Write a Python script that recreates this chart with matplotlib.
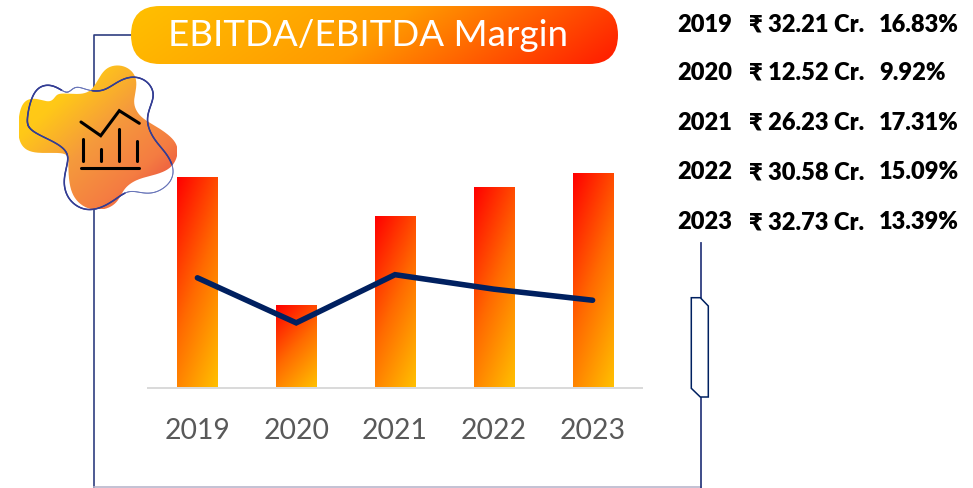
#!/usr/bin/env python3
import numpy as np
import matplotlib
matplotlib.use('Agg')
import matplotlib.pyplot as plt
from matplotlib.collections import LineCollection
from matplotlib.colors import LinearSegmentedColormap
from matplotlib.patches import FancyBboxPatch, PathPatch, Polygon
from matplotlib.path import Path

plt.rcParams['font.family'] = ['Lato', 'DejaVu Sans']

years = ['2019', '2020', '2021', '2022', '2023']
ebitda = [32.21, 12.52, 26.23, 30.58, 32.73]
margin = [16.83, 9.92, 17.31, 15.09, 13.39]
title = 'EBITDA/EBITDA Margin'

W, H = 973, 488
NAVY = '#002060'
FRAME = '#2F3E80'

red_amber = LinearSegmentedColormap.from_list('ra', ['#FF0000', '#FF6A00', '#FFC000'])
amber_red = LinearSegmentedColormap.from_list('ar', ['#FFC000', '#FF9A00', '#FF1A00'])
blob_map = LinearSegmentedColormap.from_list('bl', ['#FFD010', '#FFC818', '#F59A3C', '#F47C42', '#E63A40'])


def smooth_curve(pts, sigma=0.55):
    """Closed smooth outline from the rough points, scaled from zoom to page pixels."""
    pts = np.array(pts, dtype=float)
    closed = np.vstack([pts, pts[:1]])
    per_seg = 20
    t = np.arange(0, len(pts) + 1e-9, 1 / per_seg)[:-1]
    dense = np.column_stack([np.interp(t, np.arange(len(closed)), closed[:, i]) for i in range(2)])
    half = int(4 * sigma * per_seg)
    kernel = np.exp(-0.5 * (np.arange(-half, half + 1) / (sigma * per_seg)) ** 2)
    kernel /= kernel.sum()
    wrapped = np.vstack([dense[-half:], dense, dense[:half]])
    out = np.column_stack([np.convolve(wrapped[:, i], kernel, mode='valid') for i in range(2)])
    return np.vstack([out, out[:1]]) / 3


def fill_gradient(ax, patch, cmap, box, tilt=(1, 1)):
    """Paint a diagonal gradient over box=(x0, x1, y0, y1) clipped to patch."""
    u, v = np.meshgrid(np.linspace(0, 1, 200), np.linspace(0, 1, 200))
    g = (tilt[0] * u + tilt[1] * v) / (tilt[0] + tilt[1])
    im = ax.imshow(g, cmap=cmap, extent=box, origin='lower', aspect='auto',
                   vmin=0, vmax=1, zorder=patch.get_zorder())
    im.set_clip_path(patch)
    patch.set_visible(False)


fig = plt.figure(figsize=(W / 100, H / 100), dpi=100)

# page layer in pixel coordinates: frame, title pill, blob icon, side table
page = fig.add_axes([0, 0, 1, 1])
page.set_xlim(0, W)
page.set_ylim(H, 0)
page.axis('off')

page.plot([131, 94, 94], [35, 35, 488], color=FRAME, lw=1.2, zorder=1)
page.plot([94, 701], [487.3, 487.3], color='#B9B6CC', lw=1.2, zorder=1)
page.plot([701, 701], [243, 298], color=FRAME, lw=1.3, zorder=1)
page.plot([701, 701], [397, 488], color=FRAME, lw=1.3, zorder=1)
page.add_patch(Polygon([(691.3, 297.7), (700.3, 297.7), (708.3, 306), (708.3, 397),
                        (700.3, 397), (691.3, 388.3)], closed=True,
                       facecolor='white', edgecolor=NAVY, lw=1.1, zorder=2))

pill = FancyBboxPatch((131 + 29, 6 + 29), 487 - 58, 0.01, boxstyle='round,pad=29,rounding_size=29',
                      transform=page.transData, zorder=3)
page.add_patch(pill)
fill_gradient(page, pill, amber_red, (131, 618, 6, 64), tilt=(6, 1))
page.text(368, 35.5, title, color='white', fontsize=26.5, ha='center', va='center', zorder=4)

blob_pts = [(52, 375), (62, 300), (105, 290), (150, 312), (165, 292), (172, 278), (215, 282),
            (272, 285), (295, 235), (320, 195), (375, 192), (412, 225), (410, 270), (395, 312),
            (420, 355), (470, 378), (530, 420), (538, 458), (520, 505), (470, 525), (410, 535),
            (368, 565), (358, 605), (320, 632), (258, 632), (212, 590), (205, 525), (205, 490),
            (208, 458), (160, 458), (85, 462), (55, 430)]
blob = PathPatch(Path(smooth_curve(blob_pts, sigma=0.5)), transform=page.transData, zorder=3)
page.add_patch(blob)
fill_gradient(page, blob, blob_map, (19, 177, 65, 209), tilt=(1, 1))

ring_pts = [(80, 362), (88, 310), (108, 260), (150, 250), (185, 270), (205, 285), (225, 252),
            (260, 272), (310, 278), (350, 245), (395, 225), (442, 238), (468, 280), (450, 320),
            (435, 365), (460, 420), (502, 460), (527, 510), (512, 552), (470, 580), (430, 582),
            (385, 566), (350, 597), (300, 628), (250, 634), (203, 602), (187, 550), (200, 500),
            (210, 460), (175, 430), (108, 402), (83, 382)]
ring_curve = smooth_curve(ring_pts, sigma=0.5)
ring_segs = np.stack([ring_curve[:-1], ring_curve[1:]], axis=1)
mid = ring_segs.mean(axis=1)
thin = ((mid[:, 0] > 62) & (mid[:, 0] < 92) & (mid[:, 1] < 95)) | ((mid[:, 0] > 125) & (mid[:, 1] > 165))
ring_cols = np.where(thin[:, None], [[0.40, 0.45, 0.72, 1]], [[0.20, 0.24, 0.58, 1]])
page.add_collection(LineCollection(ring_segs, colors=ring_cols, linewidths=np.where(thin, 0.7, 1.1),
                                   capstyle='round', zorder=5))

# chart icon inside the blob
icon = dict(color='black', lw=2.2, solid_capstyle='round', solid_joinstyle='miter', zorder=6)
page.plot([81, 100.7, 119.3, 139.3], [122, 135.7, 110.7, 123.3], **icon)
page.plot([81, 139.3], [168, 168], **icon)
for bx, by in [(82.7, 138.5), (100.7, 149), (118.7, 128.5), (136.7, 141)]:
    page.plot([bx, bx], [by, 161], **icon)

# side table
row_y = [25, 73, 123, 172, 222]
for y, yr, e, m in zip(row_y, years, ebitda, margin):
    page.text(677, y, yr, fontsize=17, fontweight='heavy', color='black', va='center')
    page.text(749, y, f'₹ {e:.2f} Cr.', fontsize=17, fontweight='heavy', color='black', va='center')
    page.text(879, y, f'{m:.2f}%', fontsize=17, fontweight='heavy', color='black', va='center')

# the chart itself: bars and line share one value axis
ax = fig.add_axes([148 / W, 1 - 387.5 / H, 494 / W, 262 / H])
ax.patch.set_alpha(0)
x = np.arange(len(years))
bars = ax.bar(x, ebitda, width=0.405, zorder=2)
g_u, g_v = np.meshgrid(np.linspace(0, 1, 100), np.linspace(1, 0, 200))
for rect in bars:
    bx, bw, bh = rect.get_x(), rect.get_width(), rect.get_height()
    ax.imshow(0.35 * g_u + 0.65 * g_v, cmap=red_amber, extent=(bx, bx + bw, 0, bh), origin='lower',
              aspect='auto', vmin=0, vmax=1, zorder=2)
    rect.set_visible(False)
ax.set_xlim(-0.5, 4.5)
ax.set_ylim(0, 40.2)
ax.plot(x, margin, color=NAVY, lw=4.0, solid_capstyle='round', solid_joinstyle='miter', zorder=3)

for side in ['top', 'left', 'right']:
    ax.spines[side].set_visible(False)
ax.spines['bottom'].set_color('#D9D9D9')
ax.spines['bottom'].set_linewidth(1.4)
ax.set_yticks([])
ax.set_xticks(x)
ax.set_xticklabels(years, fontsize=20.4, color='#595959')
ax.tick_params(axis='x', length=0, pad=22)

fig.savefig('out.png', dpi=100, facecolor='white')
